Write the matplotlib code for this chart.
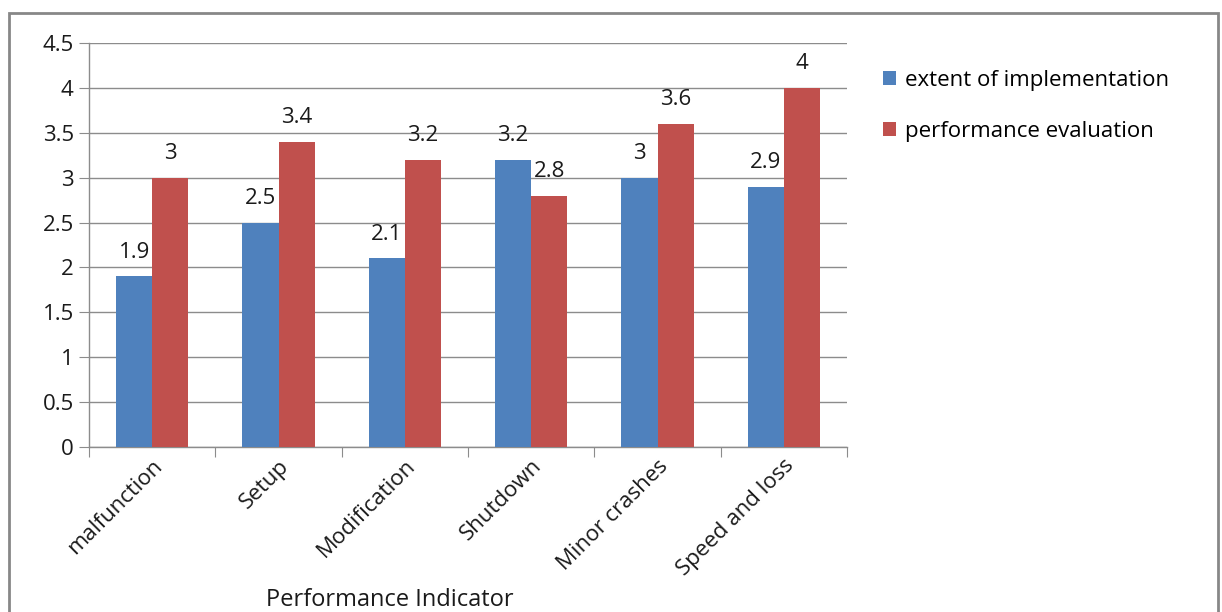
import matplotlib
matplotlib.use('Agg')
from matplotlib import pyplot as plt
from matplotlib.patches import Rectangle
import numpy as np

# Chart data
categories = ['malfunction', 'Setup', 'Modification', 'Shutdown', 'Minor crashes', 'Speed and loss']
implementation = [1.9, 2.5, 2.1, 3.2, 3.0, 2.9]
evaluation = [3.0, 3.4, 3.2, 2.8, 3.6, 4.0]
series_names = ['extent of implementation', 'performance evaluation']
y_ticks = [0, 0.5, 1, 1.5, 2, 2.5, 3, 3.5, 4, 4.5]

blue = '#4F81BD'
red = '#C0504D'
grid_gray = '#8C8C8C'
txt = '#1a1a1a'
fs = 16

plt.rcParams['font.family'] = ['Open Sans', 'DejaVu Sans']

W, H = 1222, 612
fig = plt.figure(figsize=(W / 100, H / 100), dpi=100)
ax = fig.add_axes([89 / W, 1 - 447 / H, (847 - 89) / W, (447 - 43) / H])

x = np.arange(len(categories))
bw = 0.285
b1 = ax.bar(x - bw / 2, implementation, bw, color=blue, label=series_names[0], zorder=3)
b2 = ax.bar(x + bw / 2, evaluation, bw, color=red, label=series_names[1], zorder=3)

# value labels
for bars, vals in ((b1, implementation), (b2, evaluation)):
    for rect, v in zip(bars, vals):
        ax.annotate(f'{v:g}', (rect.get_x() + rect.get_width() / 2, v),
                    xytext=(0, 10), textcoords='offset points',
                    ha='center', va='bottom', fontsize=fs, color=txt)

ax.set_xlim(-0.5, len(categories) - 0.5)
ax.set_ylim(0, 4.5)
ax.set_yticks(y_ticks)
ax.set_yticklabels([f'{t:g}' for t in y_ticks], fontsize=fs, color=txt)
ax.yaxis.grid(True, color=grid_gray, linewidth=1, zorder=0)
ax.tick_params(axis='y', length=7, color=grid_gray, pad=4)

# category boundary ticks
ax.set_xticks(np.arange(len(categories) + 1) - 0.5)
ax.set_xticklabels([])
ax.tick_params(axis='x', which='major', length=7, color=grid_gray)
ax.set_xticks(x, minor=True)
ax.set_xticklabels(categories, minor=True, rotation=45, ha='right',
                   rotation_mode='anchor', fontsize=fs, color=txt)
ax.tick_params(axis='x', which='minor', length=0, pad=6)

for s in ['top', 'right']:
    ax.spines[s].set_visible(False)
for s in ['left', 'bottom']:
    ax.spines[s].set_color(grid_gray)
    ax.spines[s].set_linewidth(1)

fig.text(390 / W, 1 - 600 / H, 'Performance Indicator', ha='center', va='center',
         fontsize=17, color=txt)

fig.legend(handles=[b1, b2], loc='upper left', bbox_to_anchor=(863 / W, 1 - 50 / H),
           frameon=False, fontsize=fs, handlelength=0.6, handleheight=0.6,
           handletextpad=0.4, labelspacing=1.35)

# outer chart frame
fig.patches.append(Rectangle((9 / W, -0.05), (1218 - 9) / W, 1.05 - 13 / H,
                             transform=fig.transFigure, fill=False,
                             edgecolor='#878787', linewidth=2))

plt.savefig('out.png', dpi=100)
